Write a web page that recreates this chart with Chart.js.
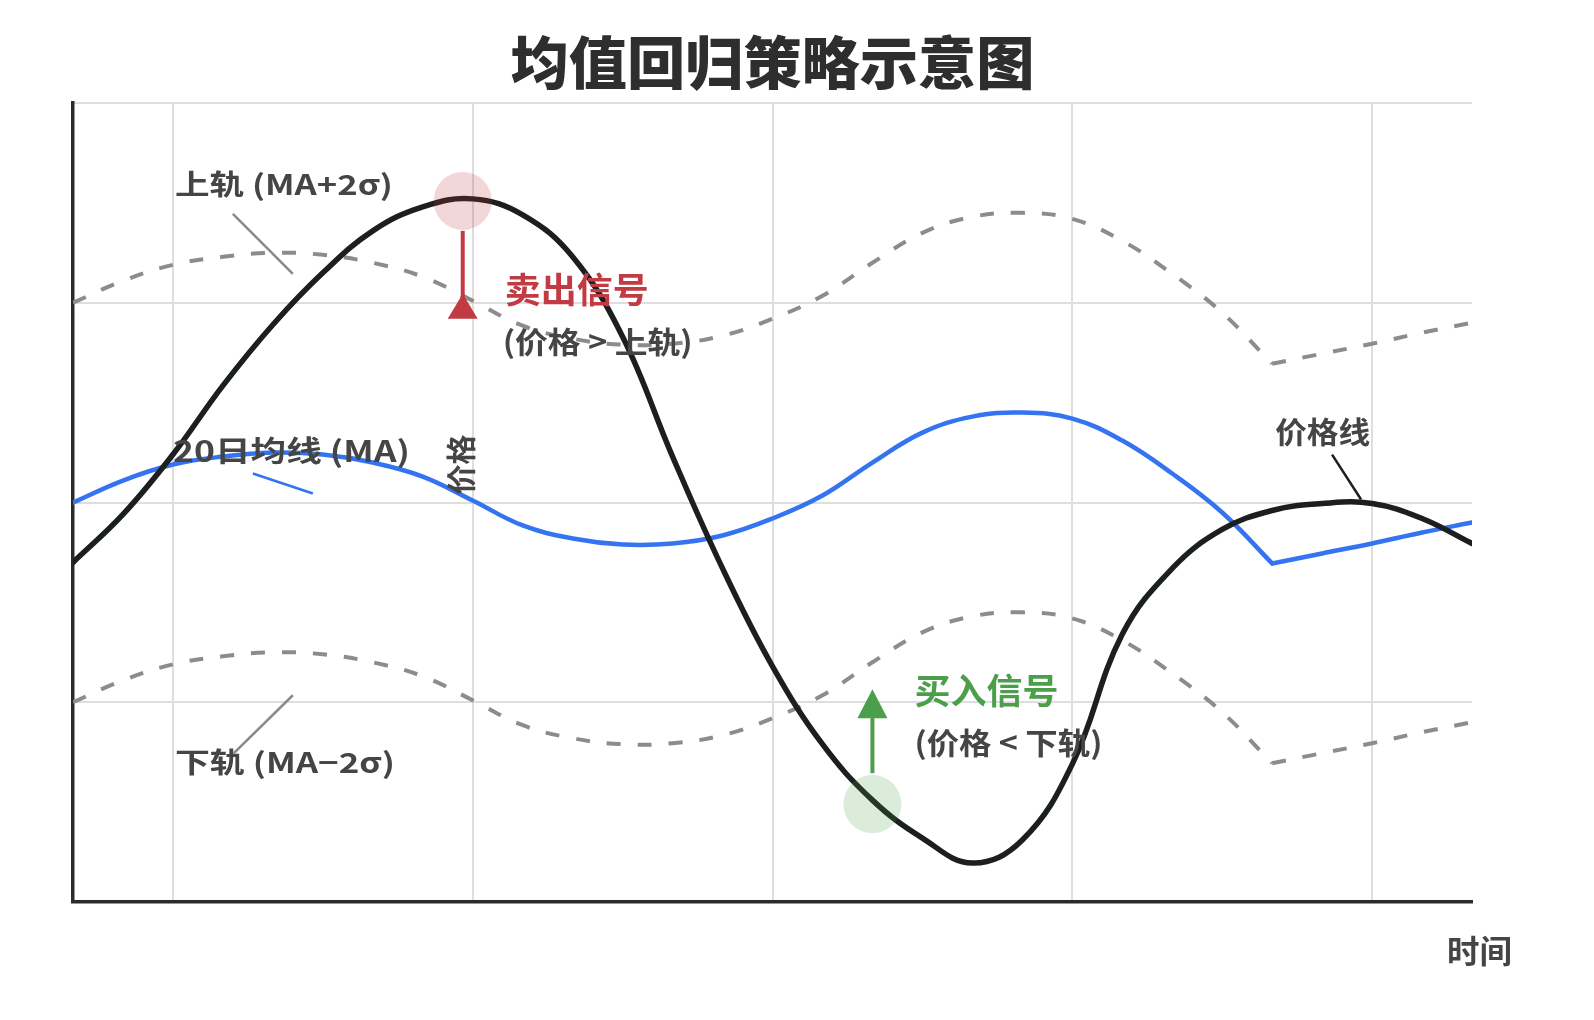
<!DOCTYPE html>
<html><head><meta charset="utf-8">
<script src="https://cdn.jsdelivr.net/npm/chart.js@4.4.1/dist/chart.umd.min.js"></script>
<style>html,body{margin:0;padding:0;background:#fff;}canvas{display:block;}</style>
</head><body>
<canvas id="c" width="1594" height="1020"></canvas>
<script>
// ---- data ----
const days = [0,0.5,1,1.5,2,2.5,3,3.5,4,4.5,5,5.5,6,6.5,7,7.5,8,8.5,9,9.5,10,10.5,11,11.5,12,12.5,13,13.5,14];
const price = [-0.30,-0.06,0.24,0.585,0.89,1.15,1.36,1.48,1.52,1.44,1.23,0.83,0.23,-0.33,-0.82,-1.21,-1.49,-1.68,-1.805,-1.69,-1.31,-0.66,-0.33,-0.135,-0.04,-0.005,-0.005,-0.08,-0.205];
const ma20 = [0.00,0.11,0.19,0.23,0.25,0.24,0.20,0.13,0.01,-0.115,-0.18,-0.21,-0.205,-0.165,-0.08,0.035,0.20,0.35,0.43,0.45,0.42,0.31,0.145,-0.05,-0.305,-0.255,-0.205,-0.15,-0.10];
const upperBand = [1.00,1.11,1.19,1.23,1.25,1.24,1.20,1.13,1.01,0.885,0.82,0.79,0.795,0.835,0.92,1.035,1.20,1.35,1.43,1.45,1.42,1.31,1.145,0.95,0.695,0.745,0.795,0.85,0.90];
const lowerBand = [-1.00,-0.89,-0.81,-0.77,-0.75,-0.76,-0.80,-0.87,-0.99,-1.115,-1.18,-1.21,-1.205,-1.165,-1.08,-0.965,-0.80,-0.65,-0.57,-0.55,-0.58,-0.69,-0.855,-1.05,-1.305,-1.255,-1.205,-1.15,-1.10];
const bandBreakDay = 12;   // sharp corner in the moving average and its bands
const sellX = [3.9], sellY = [1.51];
const buyX = [8.0], buyY = [-1.51];
const xGridTicks = [0,1,4,7,10,13];
const yGridTicks = [-2,-1,0,1,2];
const titleText = '均值回归策略示意图';
const xLabel = '时间';
const yLabel = '价格';

const pts = (xs, ys) => xs.map((x,i)=>({x, y: ys[i]}));
const K = days.indexOf(bandBreakDay);
const partA = ys => pts(days.slice(0, K+1), ys.slice(0, K+1));
const partB = ys => pts(days.slice(K), ys.slice(K));

const FONT = '"Noto Sans CJK SC", "Noto Sans", sans-serif';
const RED = '#c23a42', GREEN = '#4c9f4a', TXT = '#454545';
const BLUE = '#3574f0', GREY = '#8c8c8c', BLACK = '#1c1f1f';

function txt(ctx, s, x, y, o){
  ctx.save();
  ctx.font = `${o.weight||'bold'} ${o.size}px ${FONT}`;
  ctx.fillStyle = o.color || TXT;
  ctx.textBaseline = 'middle';
  ctx.textAlign = 'left';
  const w = ctx.measureText(s).width;
  ctx.translate(x, y);
  if (o.rot) ctx.rotate(o.rot);
  const sx = o.width ? o.width / w : 1;
  ctx.scale(sx, 1);
  ctx.fillText(s, o.center ? -w/2 : 0, 0);
  ctx.restore();
}
function seg(ctx, a, b, color, lw){
  ctx.save(); ctx.strokeStyle=color; ctx.lineWidth=lw; ctx.lineCap='butt';
  ctx.beginPath(); ctx.moveTo(a[0],a[1]); ctx.lineTo(b[0],b[1]); ctx.stroke(); ctx.restore();
}

const overlay = {
  id: 'overlay',
  afterDatasetsDraw(chart){
    const ctx = chart.ctx, xs = chart.scales.x, ys = chart.scales.y;
    const P = (x,y)=>[xs.getPixelForValue(x), ys.getPixelForValue(y)];
    // pointer lines
    seg(ctx, P(1.60,1.445), P(2.20,1.145), '#8a8a8a', 2.5);
    seg(ctx, P(1.80,0.145), P(2.40,0.045), BLUE, 2.5);
    seg(ctx, P(1.61,-1.255), P(2.20,-0.965), '#8a8a8a', 2.5);
    seg(ctx, P(12.6,0.24), P(12.89,0.015), BLACK, 2.5);
    // sell arrow (head pointing up)
    let sx = xs.getPixelForValue(sellX[0]);
    seg(ctx, [sx, ys.getPixelForValue(1.36)], [sx, ys.getPixelForValue(0.96)], RED, 4);
    ctx.save(); ctx.fillStyle = RED; ctx.beginPath();
    ctx.moveTo(sx, ys.getPixelForValue(1.045));
    ctx.lineTo(sx-15, ys.getPixelForValue(0.92));
    ctx.lineTo(sx+15, ys.getPixelForValue(0.92));
    ctx.closePath(); ctx.fill(); ctx.restore();
    // buy arrow
    let bx = xs.getPixelForValue(buyX[0]);
    seg(ctx, [bx, ys.getPixelForValue(-1.355)], [bx, ys.getPixelForValue(-1.05)], GREEN, 4);
    ctx.save(); ctx.fillStyle = GREEN; ctx.beginPath();
    ctx.moveTo(bx, ys.getPixelForValue(-0.935));
    ctx.lineTo(bx-15, ys.getPixelForValue(-1.08));
    ctx.lineTo(bx+15, ys.getPixelForValue(-1.08));
    ctx.closePath(); ctx.fill(); ctx.restore();
    // labels
    let p;
    p = P(1.02,1.595); txt(ctx, '上轨 (MA+2σ)', p[0], p[1], {size:28, weight:'600', width:218});
    p = P(1.00,0.26);  txt(ctx, '20日均线 (MA)', p[0], p[1], {size:29, weight:'600', width:237});
    p = P(1.02,-1.30); txt(ctx, '下轨 (MA−2σ)', p[0], p[1], {size:28, weight:'600', width:220});
    p = P(4.32,1.065); txt(ctx, '卖出信号', p[0], p[1], {size:35, color:RED, width:144});
    p = P(4.30,0.805); txt(ctx, '(价格 > 上轨)', p[0], p[1], {size:30, width:190});
    p = P(8.42,-0.94); txt(ctx, '买入信号', p[0], p[1], {size:35, color:GREEN, width:144});
    p = P(8.42,-1.20); txt(ctx, '(价格 < 下轨)', p[0], p[1], {size:30, width:188});
    p = P(12.03,0.355); txt(ctx, '价格线', p[0], p[1], {size:30, width:95});
    p = P(3.88,0.19);  txt(ctx, yLabel, p[0], p[1], {size:30, rot:-Math.PI/2, center:true});
  },
  afterDraw(chart){
    const ctx = chart.ctx, a = chart.chartArea;
    txt(ctx, titleText, (a.left+a.right)/2 - 262, 62, {size:57, weight:'900', color:'#2e2e2e', width:524});
    txt(ctx, xLabel, a.right - 25, 951, {size:32, width:65});
  }
};

const lineDs = (label, data, color, width, order, dash) => ({
  label, data, borderColor: color, borderWidth: width, pointRadius: 0, tension: 0.4,
  borderDash: dash || [], borderCapStyle: dash ? 'butt' : 'round', borderJoinStyle: 'round',
  fill: false, order
});

new Chart(document.getElementById('c'), {
  type: 'line',
  data: {
    datasets: [
      { label:'sell', data: pts(sellX, sellY), showLine:false, pointRadius:29, pointHoverRadius:29,
        backgroundColor:'rgba(192,57,63,0.2)', borderWidth:0, order:0 },
      { label:'buy', data: pts(buyX, buyY), showLine:false, pointRadius:29, pointHoverRadius:29,
        backgroundColor:'rgba(76,158,72,0.2)', borderWidth:0, order:0 },
      lineDs('价格', pts(days, price), BLACK, 5.5, 1),
      lineDs('20日均线', partA(ma20), BLUE, 4.5, 2),
      lineDs('20日均线 ', partB(ma20), BLUE, 4.5, 2),
      lineDs('上轨', partA(upperBand), GREY, 4, 3, [14,17]),
      lineDs('上轨 ', partB(upperBand), GREY, 4, 3, [14,17]),
      lineDs('下轨', partA(lowerBand), GREY, 4, 3, [14,17]),
      lineDs('下轨 ', partB(lowerBand), GREY, 4, 3, [14,17])
    ]
  },
  options: {
    responsive:false, animation:false, devicePixelRatio:1,
    layout:{ padding:{ left:73, right:122, top:103, bottom:118 } },
    plugins:{ legend:{display:false}, tooltip:{enabled:false}, title:{display:false} },
    scales:{
      x:{ type:'linear', min:0, max:14,
          afterBuildTicks: s => { s.ticks = xGridTicks.map(v=>({value:v})); },
          ticks:{display:false}, grid:{color:'#dedede', lineWidth:2, drawTicks:false},
          border:{display:true, color:'#2b2b2b', width:3.5} },
      y:{ type:'linear', min:-2, max:2,
          afterBuildTicks: s => { s.ticks = yGridTicks.map(v=>({value:v})); },
          ticks:{display:false}, grid:{color:'#dedede', lineWidth:2, drawTicks:false},
          border:{display:true, color:'#2b2b2b', width:3.5} }
    }
  },
  plugins:[overlay]
});
</script>
</body></html>
